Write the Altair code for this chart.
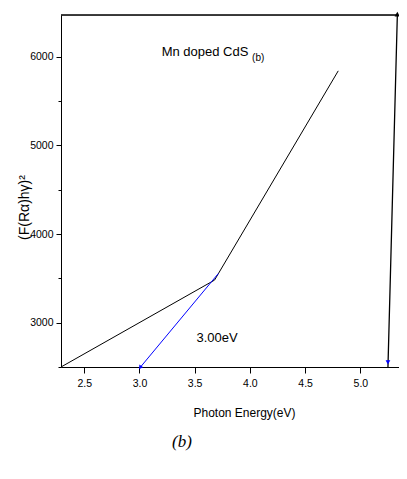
import altair as alt
import pandas as pd

# curve data
curve_x = [2.29, 3.68, 4.80]
curve_y = [2500, 3480, 5840]
fit_x = [3.01, 3.715]
fit_y = [2500, 3555]
frame_x = [2.29, 5.335, 5.25]
frame_y = [6470, 6470, 2500]

x_ticks = [2.5, 2.75, 3.0, 3.25, 3.5, 3.75, 4.0, 4.25, 4.5, 4.75, 5.0, 5.25]
y_ticks = [2500, 3000, 3500, 4000, 4500, 5000, 5500, 6000]

FONT = "Liberation Sans"
XD = [2.29, 5.35]
YD = [2500, 6470]

xs = alt.Scale(domain=XD, nice=False, zero=False)
ys = alt.Scale(domain=YD, nice=False, zero=False)

curve = pd.DataFrame({"x": curve_x, "y": curve_y, "o": range(len(curve_x))})
fit = pd.DataFrame({"x": fit_x, "y": fit_y, "o": range(len(fit_x))})
frame = pd.DataFrame({"x": frame_x, "y": frame_y, "o": range(len(frame_x))})

xaxis = alt.Axis(values=x_ticks,
                 labelExpr="(datum.value * 2) % 1 == 0 ? format(datum.value, '.1f') : ''",
                 tickSize={"condition": {"test": "(datum.value * 2) % 1 != 0", "value": 3}, "value": 6},
                 tickColor="black",
                 domainColor="black", labelFont=FONT, labelFontSize=10.5,
                 labelColor="black", labelPadding=5, grid=False,
                 title="Photon Energy(eV)", titleFont=FONT, titleFontSize=12,
                 titleFontWeight="normal", titleColor="black",
                 titleX=183, titleY=45, titleBaseline="middle", orient="bottom")
yaxis = alt.Axis(values=y_ticks,
                 labelExpr="datum.value % 1000 == 0 ? format(datum.value, 'd') : ''",
                 tickSize={"condition": {"test": "datum.value % 1000 != 0", "value": 3}, "value": 5},
                 tickColor="black",
                 domainColor="black", labelFont=FONT, labelFontSize=10.5,
                 labelColor="black", labelPadding=3, grid=False,
                 title="(F(Rα)hγ)²", titleFont=FONT, titleFontSize=14,
                 titleFontWeight="normal", titleColor="#000000",
                 titleX=-37, titleY=192, titleBaseline="middle", titleAngle=-90,
                 orient="left")

base_curve = alt.Chart(curve).mark_line(color="black", strokeWidth=1).encode(
    x=alt.X("x:Q", scale=xs, axis=xaxis),
    y=alt.Y("y:Q", scale=ys, axis=yaxis),
    order="o:Q",
)

fit_line = alt.Chart(fit).mark_line(color="blue", strokeWidth=1).encode(
    x=alt.X("x:Q", scale=xs), y=alt.Y("y:Q", scale=ys), order="o:Q")

frame_line = alt.Chart(frame).mark_line(color="black", strokeWidth=1.3, clip=False).encode(
    x=alt.X("x:Q", scale=xs), y=alt.Y("y:Q", scale=ys), order="o:Q")

arrow_top = alt.Chart(pd.DataFrame({"x": [frame_x[1]], "y": [frame_y[1]]})).mark_point(
    shape="triangle", filled=True, color="black", size=30, opacity=1, clip=False, angle=0
).encode(x=alt.X("x:Q", scale=xs), y=alt.Y("y:Q", scale=ys))

arrow_blue = alt.Chart(pd.DataFrame({"x": [fit_x[0]], "y": [fit_y[0]]})).mark_point(
    shape="triangle", filled=True, color="blue", size=22, opacity=1, clip=False, angle=215
).encode(x=alt.X("x:Q", scale=xs), y=alt.Y("y:Q", scale=ys))

arrow_blue2 = alt.Chart(pd.DataFrame({"x": [frame_x[2]], "y": [2560]})).mark_point(
    shape="triangle", filled=True, color="blue", size=22, opacity=1, clip=False, angle=180
).encode(x=alt.X("x:Q", scale=xs), y=alt.Y("y:Q", scale=ys))

labels = pd.DataFrame({
    "x": [3.594, 4.075, 3.703],
    "y": [6053, 5985, 2829],
    "t": ["Mn doped CdS", "(b)", "3.00eV"],
    "s": [13, 10, 13],
})
text = alt.Chart(labels).mark_text(font=FONT, color="black", baseline="middle", align="center").encode(
    x=alt.X("x:Q", scale=xs), y=alt.Y("y:Q", scale=ys), text="t:N",
    size=alt.Size("s:Q", scale=None, legend=None))

caption = alt.Chart(pd.DataFrame({"t": ["(b)"]})).mark_text(
    font="Liberation Serif", fontStyle="italic", fontSize=17, color="black",
    baseline="middle", align="center", clip=False
).encode(x=alt.value(121), y=alt.value(427), text="t:N")

chart = alt.layer(
    base_curve, fit_line, frame_line, arrow_top, arrow_blue, arrow_blue2, text, caption
).properties(
    width=338, height=352,
    autosize=alt.AutoSizeParams(type="none"),
    padding={"left": 53, "top": 7, "right": 0, "bottom": 95},
).configure_view(stroke=None).configure(background="white")

chart.save("out.html", embed_options={"renderer": "svg", "actions": False})
